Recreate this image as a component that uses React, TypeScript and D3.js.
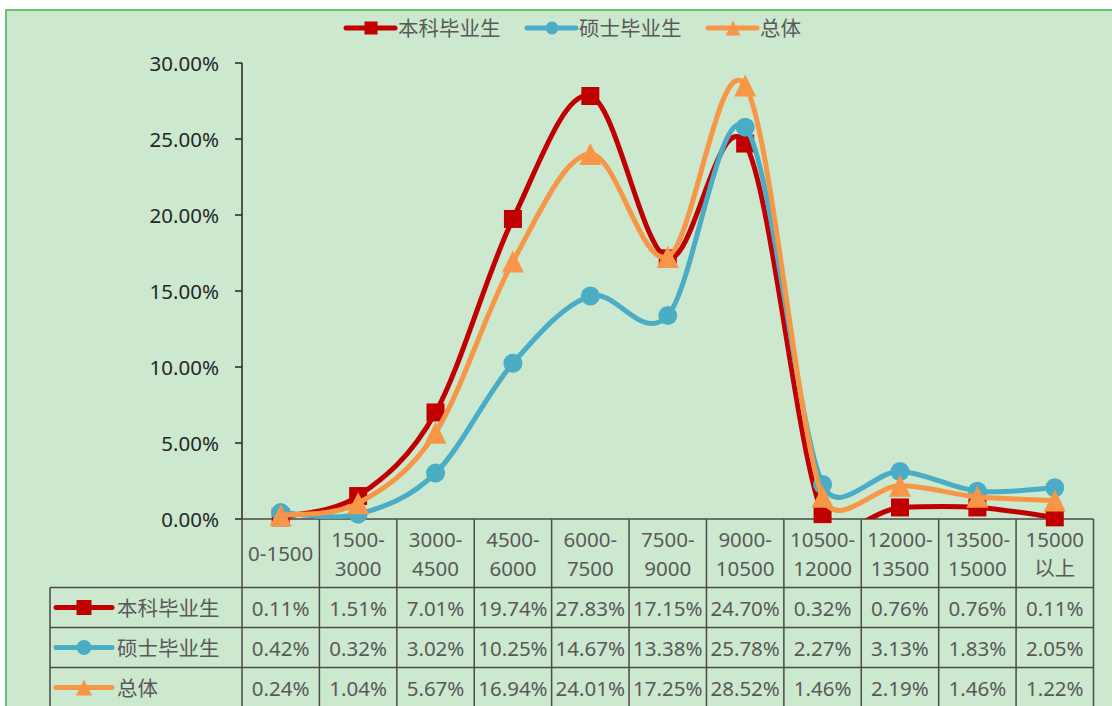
import { useEffect, useRef } from 'react';
import * as d3 from 'd3';

const CATEGORIES = [
  '0-1500', '1500-\n3000', '3000-\n4500', '4500-\n6000', '6000-\n7500', '7500-\n9000',
  '9000-\n10500', '10500-\n12000', '12000-\n13500', '13500-\n15000', '15000\n以上',
];
const BACHELOR = [0.11, 1.51, 7.01, 19.74, 27.83, 17.15, 24.70, 0.32, 0.76, 0.76, 0.11];
const MASTER = [0.42, 0.32, 3.02, 10.25, 14.67, 13.38, 25.78, 2.27, 3.13, 1.83, 2.05];
const OVERALL = [0.24, 1.04, 5.67, 16.94, 24.01, 17.25, 28.52, 1.46, 2.19, 1.46, 1.22];
const Y_TICKS = [0, 5, 10, 15, 20, 25, 30];

type Marker = 'square' | 'circle' | 'triangle';
const SERIES: { name: string; color: string; marker: Marker; values: number[] }[] = [
  { name: '本科毕业生', color: '#C00000', marker: 'square', values: BACHELOR },
  { name: '硕士毕业生', color: '#4BACC6', marker: 'circle', values: MASTER },
  { name: '总体', color: '#F79646', marker: 'triangle', values: OVERALL },
];

const FONT = '"Noto Sans", "Noto Sans CJK SC", sans-serif';
const W = 1112;
const H = 706;

// marker path centred on its bounding box, like Excel draws them
function markerPath(kind: Marker, s: number) {
  const h = s / 2;
  if (kind === 'square') return `M${-h},${-h}H${h}V${h}H${-h}Z`;
  if (kind === 'circle') return `M${-h},0A${h},${h} 0 1,0 ${h},0A${h},${h} 0 1,0 ${-h},0Z`;
  return `M0,${-h}L${h},${h}L${-h},${h}Z`;
}
const MARK_SIZE: Record<Marker, number> = { square: 18, circle: 19, triangle: 22 };

// Excel-style smoothing: bezier, tangent (next - prev) / 6, capped at half the segment length
function smoothPath(pts: [number, number][]) {
  const p = d3.path();
  const ctrl = (from: [number, number], prev: [number, number], next: [number, number], seg: number, sign: number) => {
    let dx = (next[0] - prev[0]) / 6;
    let dy = (next[1] - prev[1]) / 6;
    const len = Math.hypot(dx, dy);
    if (len > seg / 2) { dx *= seg / 2 / len; dy *= seg / 2 / len; }
    return [from[0] + sign * dx, from[1] + sign * dy];
  };
  p.moveTo(pts[0][0], pts[0][1]);
  for (let i = 0; i < pts.length - 1; i++) {
    const p0 = pts[i - 1] ?? pts[i];
    const p1 = pts[i];
    const p2 = pts[i + 1];
    const p3 = pts[i + 2] ?? pts[i + 1];
    const seg = Math.hypot(p2[0] - p1[0], p2[1] - p1[1]);
    const c1 = ctrl(p1, p0, p2, seg, 1);
    const c2 = ctrl(p2, p1, p3, seg, -1);
    p.bezierCurveTo(c1[0], c1[1], c2[0], c2[1], p2[0], p2[1]);
  }
  return p.toString();
}

export default function App() {
  const svgRef = useRef<SVGSVGElement>(null);

  useEffect(() => {
    document.body.style.margin = '0';
    const svg = d3.select(svgRef.current!);
    svg.selectAll('*').remove();

    const plot = { left: 242, right: 1093.5, top: 63, bottom: 519 };
    const rowH = 40;
    const labelBottom = 587.5;
    const tableLeft = 50;

    const x = d3.scaleBand<string>().domain(CATEGORIES).range([plot.left, plot.right]);
    const y = d3.scaleLinear().domain([0, 30]).range([plot.bottom, plot.top]);
    const cx = (i: number) => (x(CATEGORIES[i]) ?? 0) + x.bandwidth() / 2;

    // chart area
    svg.append('rect').attr('x', 6).attr('y', 10).attr('width', W).attr('height', H)
      .attr('fill', '#CCE8CF').attr('stroke', '#6FBF73').attr('stroke-width', 2);

    // legend on top
    let cursor = 346;
    SERIES.forEach((s) => {
      const g = svg.append('g').attr('transform', `translate(${cursor},28)`);
      g.append('line').attr('x1', 0).attr('x2', 49).attr('stroke', s.color)
        .attr('stroke-width', 5).attr('stroke-linecap', 'round');
      g.append('path').attr('transform', 'translate(25,0)')
        .attr('d', markerPath(s.marker, s.marker === 'triangle' ? 15 : 13)).attr('fill', s.color);
      g.append('text').attr('x', 52).attr('dominant-baseline', 'central')
        .attr('font-family', FONT).attr('font-size', 20.5).attr('fill', '#595959').text(s.name);
      cursor += 52 + s.name.length * 21 + 24;
    });

    // y axis
    const yAxis = svg.append('g');
    yAxis.append('line').attr('x1', plot.left).attr('x2', plot.left)
      .attr('y1', plot.top).attr('y2', plot.bottom).attr('stroke', '#262626').attr('stroke-width', 1.5);
    yAxis.selectAll('.tick').data(Y_TICKS).join('g')
      .attr('transform', (d) => `translate(0,${y(d)})`)
      .each(function (d) {
        const t = d3.select(this);
        t.append('line').attr('x1', plot.left - 7).attr('x2', plot.left)
          .attr('stroke', '#262626').attr('stroke-width', 1.5);
        t.append('text').attr('x', plot.left - 23).attr('text-anchor', 'end')
          .attr('dominant-baseline', 'central').attr('font-family', FONT).attr('font-size', 20.5)
          .attr('fill', '#262626').text(`${d.toFixed(2)}%`);
      });

    // data table grid
    const tableBottom = labelBottom + rowH * SERIES.length;
    const grid = svg.append('g').attr('stroke', '#4A4A4A').attr('stroke-width', 1.5);
    [...x.domain().map((c) => x(c) ?? 0), plot.right].forEach((bx) => {
      grid.append('line').attr('x1', bx).attr('x2', bx).attr('y1', plot.bottom).attr('y2', tableBottom);
    });
    grid.append('line').attr('x1', plot.left).attr('x2', plot.right)
      .attr('y1', plot.bottom).attr('y2', plot.bottom);
    d3.range(SERIES.length + 1).forEach((r) => {
      const ry = labelBottom + r * rowH;
      grid.append('line').attr('x1', tableLeft).attr('x2', plot.right).attr('y1', ry).attr('y2', ry);
    });
    grid.append('line').attr('x1', tableLeft).attr('x2', tableLeft)
      .attr('y1', labelBottom).attr('y2', tableBottom);

    // category labels
    CATEGORIES.forEach((c, i) => {
      const lines = c.split('\n');
      const mid = (plot.bottom + labelBottom) / 2;
      lines.forEach((ln, j) => {
        svg.append('text').attr('x', cx(i)).attr('y', mid + (j - (lines.length - 1) / 2) * 29.5)
          .attr('text-anchor', 'middle').attr('dominant-baseline', 'central')
          .attr('font-family', FONT).attr('font-size', 20.5).attr('fill', '#595959').text(ln);
      });
    });

    // table rows
    SERIES.forEach((s, r) => {
      const ry = labelBottom + r * rowH + rowH / 2;
      const key = svg.append('g').attr('transform', `translate(56,${ry})`);
      key.append('line').attr('x1', 0).attr('x2', 56).attr('stroke', s.color)
        .attr('stroke-width', 5).attr('stroke-linecap', 'round');
      key.append('path').attr('transform', 'translate(28,0)')
        .attr('d', markerPath(s.marker, s.marker === 'triangle' ? 16 : 15)).attr('fill', s.color);
      svg.append('text').attr('x', 117).attr('y', ry).attr('dominant-baseline', 'central')
        .attr('font-family', FONT).attr('font-size', 20.5).attr('fill', '#595959').text(s.name);
      s.values.forEach((v, i) => {
        svg.append('text').attr('x', cx(i)).attr('y', ry).attr('text-anchor', 'middle')
          .attr('dominant-baseline', 'central').attr('font-family', FONT).attr('font-size', 20.5)
          .attr('fill', '#595959').text(`${v.toFixed(2)}%`);
      });
    });

    // series (smoothed, clipped to the plot like Excel)
    svg.append('clipPath').attr('id', 'plot-clip').append('rect')
      .attr('x', 0).attr('y', 0).attr('width', W).attr('height', plot.bottom);
    SERIES.forEach((s) => {
      const pts = s.values.map((v, i) => [cx(i), y(v)] as [number, number]);
      svg.append('path').attr('d', smoothPath(pts)).attr('fill', 'none')
        .attr('stroke', s.color).attr('stroke-width', 5).attr('stroke-linecap', 'round')
        .attr('clip-path', 'url(#plot-clip)');
      svg.append('g').selectAll('path').data(s.values).join('path')
        .attr('transform', (d, i) => `translate(${cx(i)},${y(d)})`)
        .attr('d', markerPath(s.marker, MARK_SIZE[s.marker])).attr('fill', s.color);
    });
  }, []);

  return <svg ref={svgRef} width={W} height={H} style={{ display: 'block', background: '#fff' }} />;
}
